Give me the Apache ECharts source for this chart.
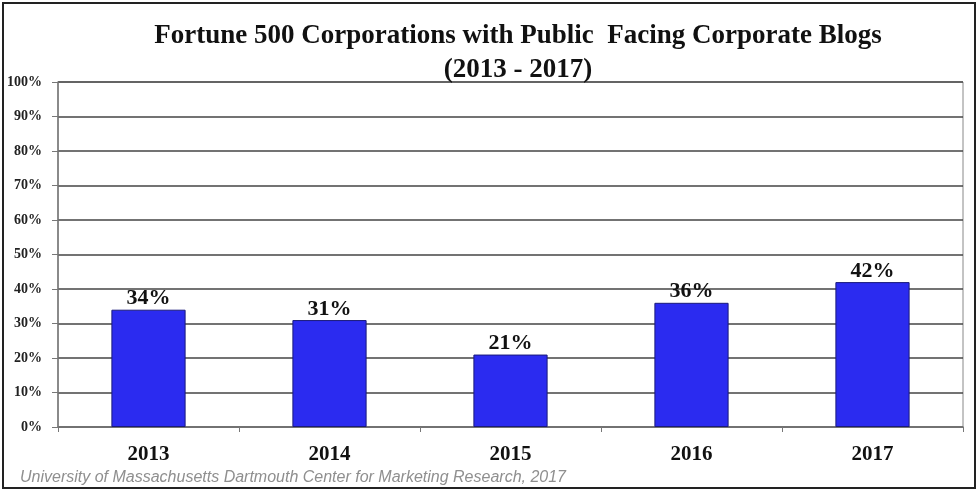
<!DOCTYPE html>
<html>
<head>
<meta charset="utf-8">
<script src="https://cdn.jsdelivr.net/npm/echarts@6/dist/echarts.min.js"></script>
<style>html,body{margin:0;padding:0;background:#fff;}#c{width:979px;height:492px;}</style>
</head>
<body>
<div id="c"></div>
<script>
const categories = ['2013', '2014', '2015', '2016', '2017'];
const values = [34, 31, 21, 36, 42];
const yTicks = [0, 10, 20, 30, 40, 50, 60, 70, 80, 90, 100];

const chart = echarts.init(document.getElementById('c'), null, {renderer: 'canvas'});
const serif = '"Liberation Serif", "Times New Roman", serif';
chart.setOption({
  animation: false,
  backgroundColor: '#fff',
  title: {
    text: 'Fortune 500 Corporations with Public  Facing Corporate Blogs\n(2013 - 2017)',
    left: 513, top: 14, textAlign: 'center',
    textStyle: {fontFamily: serif, fontWeight: 'bold', fontSize: 27, lineHeight: 34, color: '#111'}
  },
  graphic: [
    {type: 'rect', shape: {x: 3, y: 3, width: 972, height: 485}, style: {fill: 'none', stroke: '#222', lineWidth: 2}, z: 100},
    {type: 'text', left: 20, top: 470, style: {text: 'University of Massachusetts Dartmouth Center for Marketing Research, 2017', font: 'italic 16px "Liberation Sans", Arial, sans-serif', fill: '#8f8f8f'}}
  ],
  grid: {left: 58, right: 16, top: 82, bottom: 65, show: true, borderColor: '#888', borderWidth: 1},
  xAxis: {
    type: 'category', data: categories,
    axisLine: {lineStyle: {color: '#777', width: 1.5}},
    axisTick: {show: true, length: 5, lineStyle: {color: '#777'}},
    axisLabel: {fontFamily: serif, fontWeight: 'bold', fontSize: 21, color: '#111', margin: 17}
  },
  yAxis: {
    type: 'value', min: 0, max: 100, interval: 10,
    axisLine: {show: true, lineStyle: {color: '#777', width: 1.5}},
    axisTick: {show: true, length: 6, lineStyle: {color: '#777'}},
    splitLine: {lineStyle: {color: '#444', width: 1.5}},
    axisLabel: {fontFamily: serif, fontWeight: 'bold', fontSize: 14, color: '#222', margin: 16,
      formatter: v => yTicks.includes(v) ? v + '%' : ''}
  },
  series: [{
    type: 'bar', data: values, barWidth: '41%',
    itemStyle: {color: '#2b2bf0', borderColor: '#1a1a7a', borderWidth: 1},
    label: {show: true, position: 'top', distance: 0, formatter: p => p.value + '%',
      fontFamily: serif, fontWeight: 'bold', fontSize: 22, color: '#111'}
  }]
});
</script>
</body>
</html>
